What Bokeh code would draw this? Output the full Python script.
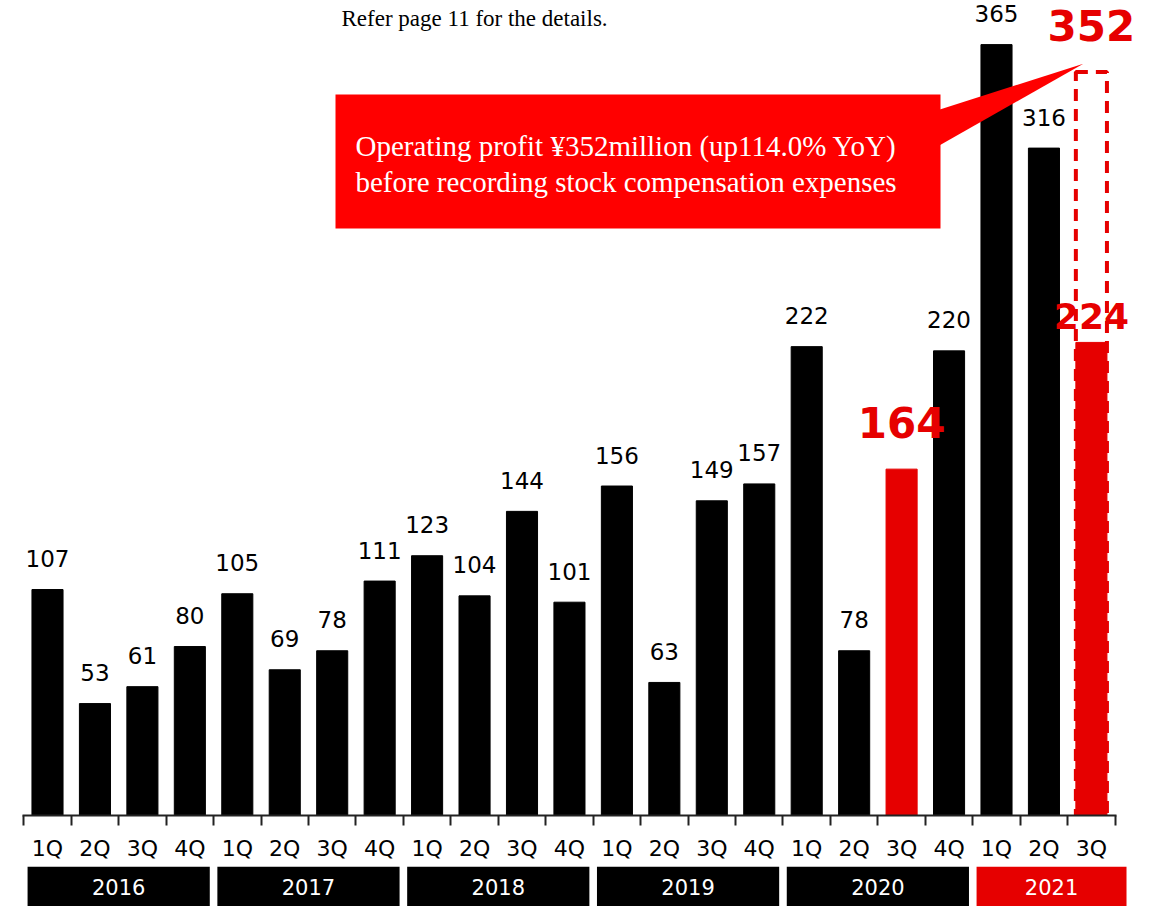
from bokeh.plotting import figure
from bokeh.layouts import column
from bokeh.models import Range1d, LinearAxis, FixedTicker, ColumnDataSource
from bokeh.core.properties import value
from bokeh.embed import file_html
from bokeh.resources import INLINE

# ---------------- data ----------------
years = ["2016", "2017", "2018", "2019", "2020", "2021"]
quarters_in_year = [4, 4, 4, 4, 4, 3]
quarter_names = ["1Q", "2Q", "3Q", "4Q"]
operating_profit = [107, 53, 61, 80,
                    105, 69, 78, 111,
                    123, 104, 144, 101,
                    156, 63, 149, 157,
                    222, 78, 164, 220,
                    365, 316, 224]
highlighted_quarters = ["2020 3Q", "2021 3Q"]
adjusted_latest = 352  # before stock compensation expenses
note_text = "Refer page 11 for the details."
callout_lines = ["Operating profit \u00a5352million (up114.0% YoY)",
                 "before recording stock compensation expenses"]

# ---------------- derived ----------------
keys, qlabels = [], []
for y, n in zip(years, quarters_in_year):
    for q in quarter_names[:n]:
        keys.append(f"{y} {q}")
        qlabels.append(q)
n_bars = len(operating_profit)
idx = list(range(n_bars))
is_hi = [k in highlighted_quarters for k in keys]
hi_idx = [i for i in idx if is_hi[i]]
last = n_bars - 1

# ---------------- styles / geometry ----------------
RED = "#e60000"
CALLOUT_RED = "#ff0000"
W = 1153
FRAME_H = 815
AXIS_H = 51
BAND_H = 40
X0_PX = 47.0
STEP_PX = 47.45
PX_PER_UNIT = 2.112
BAR_W = 0.655

x_start = -X0_PX / STEP_PX
x_range = Range1d(x_start, x_start + W / STEP_PX)
y_range = Range1d(0, FRAME_H / PX_PER_UNIT)


def dx(px):
    return x_start + px / STEP_PX


def dy(py):
    return (FRAME_H - py) / PX_PER_UNIT


p = figure(frame_width=W, frame_height=FRAME_H, x_range=x_range, y_range=y_range,
           output_backend="svg", toolbar_location=None,
           x_axis_location=None, y_axis_location=None,
           min_border_left=0, min_border_right=0, min_border_top=0,
           min_border_bottom=AXIS_H)
p.outline_line_color = None
p.background_fill_color = "white"
p.border_fill_color = "white"
for g in p.grid:
    g.visible = False

# axis with quarter labels
ax = LinearAxis(
    ticker=FixedTicker(ticks=idx, minor_ticks=[i - 0.5 for i in range(n_bars + 1)]),
    major_label_overrides={i: q for i, q in enumerate(qlabels)},
    major_tick_out=0, major_tick_in=0,
    minor_tick_out=10, minor_tick_in=0,
    minor_tick_line_color="#222222", minor_tick_line_width=2,
    axis_line_color="#222222", axis_line_width=2,
    major_label_text_font="DejaVu Sans", major_label_text_font_size="22px",
    major_label_text_color="black", major_label_standoff=10,
)
ax.bounds = (-0.52, n_bars - 0.48)
p.add_layout(ax, "below")

# dashed box for the adjusted value
p.quad(left=[last - BAR_W / 2], right=[last + BAR_W / 2], bottom=[0], top=[adjusted_latest],
       fill_color=None, line_color=RED, line_width=4, line_dash="12 8")

# bars
bar_src = ColumnDataSource(dict(
    x=idx, top=operating_profit,
    color=[RED if h else "black" for h in is_hi]))
p.vbar(x="x", top="top", width=BAR_W, bottom=0, source=bar_src,
       fill_color="color", line_color="color")

# regular labels
reg = [i for i in idx if not is_hi[i]]
p.text(x=reg, y=[operating_profit[i] for i in reg],
       text=[str(operating_profit[i]) for i in reg],
       text_font=value("DejaVu Sans"), text_font_size="23px", text_color="black",
       text_align="center", text_baseline="alphabetic", y_offset=-31)

# highlighted labels
p.text(x=[hi_idx[0]], y=[operating_profit[hi_idx[0]]], text=[str(operating_profit[hi_idx[0]])],
       text_font=value("DejaVu Sans"), text_font_size="42px", text_font_style="bold",
       text_color=RED, text_align="center", text_baseline="alphabetic", y_offset=-47)
p.text(x=[hi_idx[1]], y=[operating_profit[hi_idx[1]]], text=[str(operating_profit[hi_idx[1]])],
       text_font=value("DejaVu Sans"), text_font_size="36px", text_font_style="bold",
       text_color=RED, text_align="center", text_baseline="alphabetic", y_offset=-26)
p.text(x=[last], y=[adjusted_latest], text=[str(adjusted_latest)],
       text_font=value("DejaVu Sans"), text_font_size="42px", text_font_style="bold",
       text_color=RED, text_align="center", text_baseline="alphabetic", y_offset=-47)

# callout box and pointer
p.quad(left=[dx(335)], right=[dx(940)], top=[dy(94)], bottom=[dy(228)],
       fill_color=CALLOUT_RED, line_color=None)
p.patch(x=[dx(930), dx(930), last - 0.17], y=[dy(112), dy(150), adjusted_latest + 4],
        fill_color=CALLOUT_RED, line_color=None)
p.text(x=[dx(355), dx(355)], y=[dy(145), dy(181)], text=callout_lines,
       text_font=value("Liberation Serif"), text_font_size="29px", text_color="white",
       text_align="left", text_baseline="middle")

# note at top
p.text(x=[dx(341)], y=[dy(18)], text=[note_text],
       text_font=value("Liberation Serif"), text_font_size="23px", text_color="black",
       text_align="left", text_baseline="middle")

# ---------------- year band strip ----------------
p2 = figure(frame_width=W, frame_height=BAND_H, x_range=x_range, y_range=Range1d(0, 1),
            output_backend="svg", toolbar_location=None,
            x_axis_location=None, y_axis_location=None, min_border=0)
p2.outline_line_color = None
for g in p2.grid:
    g.visible = False

lefts, rights, mids, cols = [], [], [], []
start = 0
for k, (y, n) in enumerate(zip(years, quarters_in_year)):
    first, lastq = start, start + n - 1
    l = first - 0.42
    r = lastq + 0.42
    if k == len(years) - 1:
        r = lastq + 0.74
    lefts.append(l)
    rights.append(r)
    mids.append((l + r) / 2)
    cols.append(RED if y == years[-1] else "black")
    start += n
p2.quad(left=lefts, right=rights, bottom=0, top=1, fill_color=cols, line_color=None)
p2.text(x=mids, y=[0.5] * len(mids), text=years, text_font=value("DejaVu Sans"),
        text_font_size="21px", text_color="white", text_align="center",
        text_baseline="middle")

layout = column(p, p2, spacing=0)
open("out.html", "w").write(file_html(layout, INLINE))
